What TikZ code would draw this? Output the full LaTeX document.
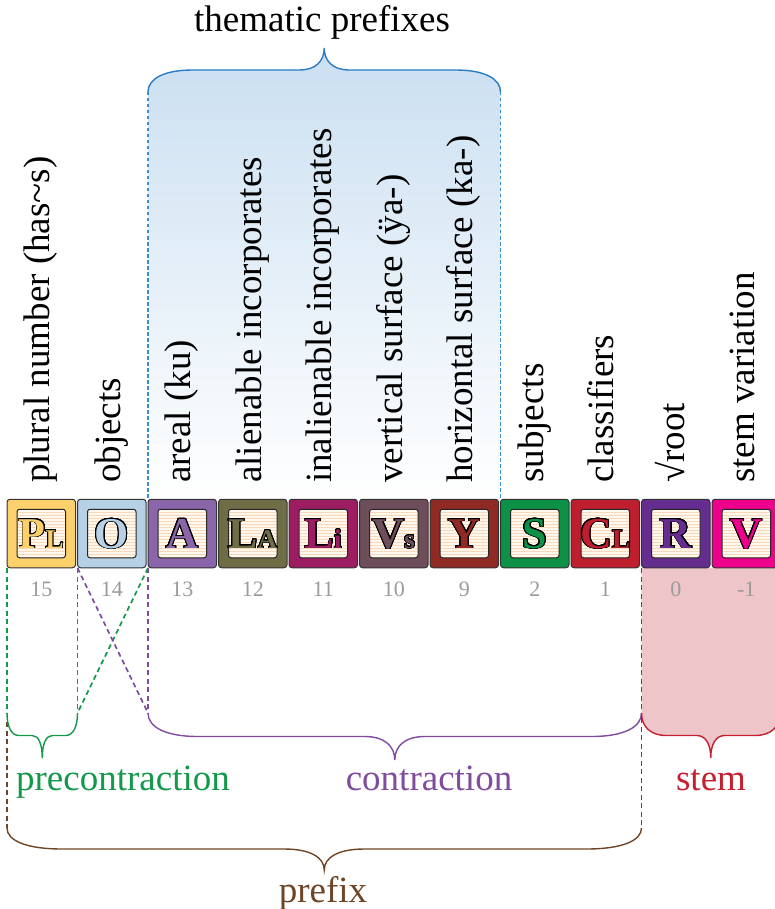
\documentclass[tikz,border=0pt]{standalone}
\usepackage{fontspec}
\setmainfont{Liberation Serif}
\usepackage{contour}
\usetikzlibrary{calc,patterns,shadings}
\contourlength{0.75pt}
\contournumber{32}
\definecolor{cP}{HTML}{FCD06A}
\definecolor{cO}{HTML}{B6D0E6}
\definecolor{cA}{HTML}{8A65AA}
\definecolor{cLA}{HTML}{6E6D45}
\definecolor{cLi}{HTML}{9D1D62}
\definecolor{cVs}{HTML}{6F4E5C}
\definecolor{cY}{HTML}{8F2A24}
\definecolor{cS}{HTML}{0C9146}
\definecolor{cCL}{HTML}{BF1E2E}
\definecolor{cR}{HTML}{662D91}
\definecolor{cV}{HTML}{EC008C}
\definecolor{cream}{HTML}{FFF8EE}
\definecolor{stripe}{HTML}{F8D8B8}
\definecolor{numgray}{HTML}{9A9A9A}
\definecolor{thblue}{HTML}{2C7CC4}
\definecolor{thdash}{HTML}{3A8CD4}
\definecolor{thshade}{HTML}{CADFF1}
\definecolor{thmid}{HTML}{EEF4FA}
\definecolor{pgreen}{HTML}{14994A}
\definecolor{cpurple}{HTML}{7F4C9F}
\definecolor{sred}{HTML}{C62030}
\definecolor{pink}{HTML}{EEC5C9}
\definecolor{pbrown}{HTML}{6E4526}
\newcommand{\smallltr}[1]{{\fontsize{27}{27}\selectfont #1}}
\tikzset{
  tilebox/.style={draw=black!80, line width=1pt, rounded corners=3pt, minimum size=68.5pt, inner sep=0pt},
  innerbox/.style={draw=black!85, line width=1pt, rounded corners=2.5pt, minimum size=48.5pt, inner sep=0pt,
     preaction={fill=cream}, pattern=horizontal lines, pattern color=stripe},
  letterst/.style={font=\bfseries\fontsize{44}{44}\selectfont, inner sep=0pt, anchor=base},
  numst/.style={font=\fontsize{22}{22}\selectfont, text=numgray, inner sep=0pt, anchor=base},
  labst/.style={font=\fontsize{37}{37}\selectfont, rotate=90, anchor=west, inner sep=0pt, text height=27pt, text depth=10pt},
  bigtext/.style={font=\fontsize{37}{37}\selectfont, inner sep=0pt, anchor=base},
  dline/.style={line width=1.7pt, dash pattern=on 5pt off 3.5pt},
  bline/.style={line width=1.3pt, dash pattern=on 3.5pt off 2.5pt, draw=thdash},
  brline/.style={line width=1.4pt},
  cbrace/.style n args={3}{to path={
    let \p1=(\tikztostart), \p2=(\tikztotarget), \p3=($(\tikztostart)!0.5!(\tikztotarget)$) in
    .. controls (\x1,{\y1-0.3*(#1)}) and ({\x1+0.35*(#2)},{\y1-0.5*(#1)}) .. ({\x1+(#2)},{\y1-0.5*(#1)})
    -- ({\x3-(#3)},{\y1-0.5*(#1)})
    .. controls ({\x3-0.35*(#3)},{\y1-0.5*(#1)}) and (\x3,{\y1-0.7*(#1)}) .. (\x3,{\y1-(#1)})
    .. controls (\x3,{\y1-0.7*(#1)}) and ({\x3+0.35*(#3)},{\y1-0.5*(#1)}) .. ({\x3+(#3)},{\y1-0.5*(#1)})
    -- ({\x2-(#2)},{\y1-0.5*(#1)})
    .. controls ({\x2-0.35*(#2)},{\y1-0.5*(#1)}) and (\x2,{\y1-0.3*(#1)}) .. (\x2,\y1)
  }}
}
\begin{document}
\begin{tikzpicture}[x=1pt,y=-1pt]
\useasboundingbox (0,0) rectangle (775,909);
\clip (0,0) rectangle (775,909);
% key coordinates
\coordinate (thL) at (148,92);
\coordinate (thR) at (500.5,92);
\coordinate (thLb) at (148,499);
\coordinate (thRb) at (500.5,499);
\coordinate (a0) at (7,568);
\coordinate (a1) at (77.5,568);
\coordinate (a2) at (148,568);
\coordinate (a9) at (641.5,568);
\coordinate (aR) at (785,568);
\coordinate (b0) at (7,713);
\coordinate (b1) at (77.5,713);
\coordinate (b2) at (148,713);
\coordinate (b9) at (641.5,713);
\coordinate (bR) at (780,713);
\coordinate (c0) at (7,722);
\coordinate (c9) at (641.5,718);
\coordinate (d0) at (7,828);
\coordinate (d9) at (641.5,828);
% thematic shading
\shade[top color=thshade, middle color=thmid, bottom color=white] (thLb) -- (thL) to[cbrace={-44pt}{45pt}{25pt}] (thR) -- (thRb) -- cycle;
% stem pink region
\fill[pink] (a9) -- (b9) to[cbrace={45pt}{25pt}{14pt}] (bR) -- (aR) -- cycle;
% dashed guides
\draw[bline] (thL) -- (thLb);
\draw[bline] (thR) -- (thRb);
\draw[dline, pgreen] (a0) -- (b0);
\draw[dline, pgreen] (a1) -- (b1);
\draw[dline, pgreen] (a2) -- (b1);
\draw[dline, cpurple] (a1) -- (b2);
\draw[dline, cpurple] (a2) -- (b2);
\draw[dline, sred] (a9) -- (b9);
\draw[dline, pbrown] (c0) -- (d0);
\draw[dline, pbrown] (c9) -- (d9);
% braces
\draw[brline, thblue] (thL) to[cbrace={-44pt}{45pt}{25pt}] (thR);
\draw[brline, pgreen] (b0) to[cbrace={45pt}{12pt}{10pt}] (b1);
\draw[brline, cpurple] (b2) to[cbrace={47pt}{50pt}{30pt}] (b9);
\draw[brline, sred] (b9) to[cbrace={45pt}{25pt}{14pt}] (bR);
\draw[brline, pbrown] (d0) to[cbrace={42pt}{55pt}{40pt}] (d9);
% tiles
\foreach \idx/\tcol/\tlet/\tnum/\tlab in {
  0/cP/{P\smallltr{L}}/15/{plural number (has\textasciitilde s)},
  1/cO/O/14/objects,
  2/cA/A/13/{areal (ku)},
  3/cLA/{L\smallltr{A}}/12/{alienable incorporates},
  4/cLi/{L\smallltr{i}}/11/{inalienable incorporates},
  5/cVs/{V\smallltr{s}}/10/{vertical surface (ÿa-)},
  6/cY/Y/9/{horizontal surface (ka-)},
  7/cS/S/2/subjects,
  8/cCL/{C\smallltr{L}}/1/classifiers,
  9/cR/R/0/{√root},
  10/cV/V/-1/{stem variation}}{
  \pgfmathsetmacro\tx{7+70.5*\idx+34.25}
  \node[tilebox, fill=\tcol] (t\idx) at (\tx,533.5) {};
  \node[innerbox] (in\idx) at (t\idx.center) {};
  \node[letterst, text=\tcol] (l\idx) at (\tx,548) {\contour{black}{\tlet}};
  \node[numst] (n\idx) at (\tx,596) {\tnum};
  \node[labst] (lab\idx) at (\tx,483) {\tlab};
}
% group labels
\node[bigtext] (thematic) at (322,32) {thematic prefixes};
\node[bigtext, text=pgreen] (precon) at (123,790) {precontraction};
\node[bigtext, text=cpurple] (contr) at (429,790) {contraction};
\node[bigtext, text=sred] (stem) at (711,790) {stem};
\node[bigtext, text=pbrown] (prefix) at (323,902) {prefix};
\end{tikzpicture}
\end{document}
